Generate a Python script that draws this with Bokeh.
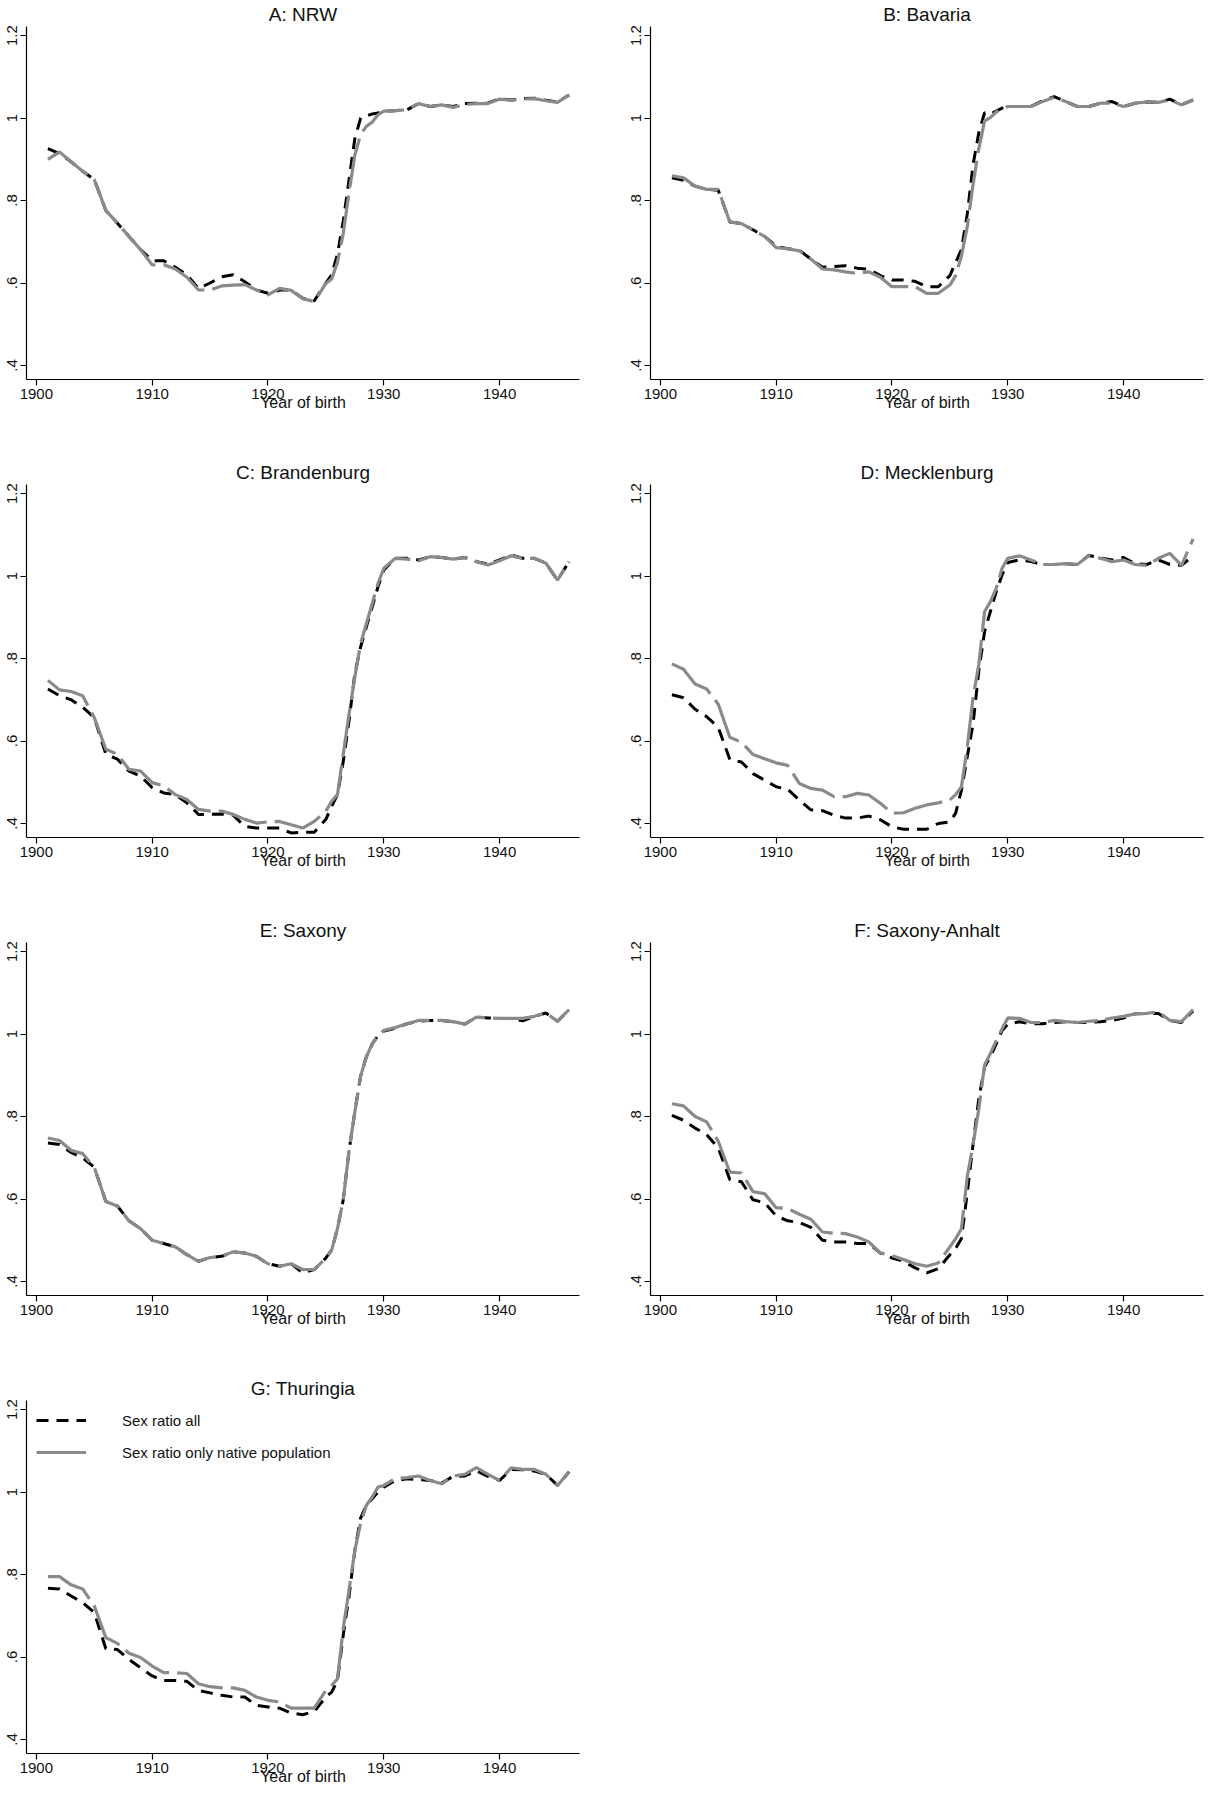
from bokeh.plotting import figure
from bokeh.layouts import gridplot
from bokeh.models import Range1d, FixedTicker, CustomJSTickFormatter, Legend, LegendItem
from bokeh.embed import file_html
from bokeh.resources import INLINE

# ---------------- data ----------------
YEARS = [1901, 1902, 1903, 1904, 1905, 1906, 1907, 1908, 1909, 1910,
         1911, 1912, 1913, 1914, 1915, 1916, 1917, 1918, 1919, 1920,
         1921, 1922, 1923, 1924, 1925,
         1925.5, 1926, 1926.5, 1927, 1927.5, 1928, 1928.5, 1929, 1929.5, 1930,
         1931, 1932, 1933, 1934, 1935, 1936, 1937, 1938, 1939, 1940,
         1941, 1942, 1943, 1944, 1945, 1946]

PANEL_TITLES = ["A: NRW", "B: Bavaria", "C: Brandenburg", "D: Mecklenburg",
                "E: Saxony", "F: Saxony-Anhalt", "G: Thuringia"]

SERIES_LABELS = ["Sex ratio all", "Sex ratio only native population"]
X_TICKS = [1900, 1910, 1920, 1930, 1940]
Y_TICKS = [0.4, 0.6, 0.8, 1.0, 1.2]
X_AXIS_LABEL = "Year of birth"

NRW_ALL = [0.926, 0.914, 0.894, 0.871, 0.851, 0.776, 0.745, 0.713, 0.681, 0.654,
           0.654, 0.638, 0.620, 0.587, 0.600, 0.615, 0.620, 0.603, 0.583, 0.575,
           0.583, 0.583, 0.563, 0.557, 0.600,
           0.620, 0.670, 0.750, 0.850, 0.950, 1.000, 1.005, 1.010, 1.012, 1.017,
           1.018, 1.020, 1.035, 1.028, 1.032, 1.028, 1.035, 1.036, 1.036, 1.047,
           1.044, 1.047, 1.048, 1.043, 1.039, 1.056]
NRW_NAT = [0.900, 0.918, 0.894, 0.871, 0.851, 0.776, 0.745, 0.713, 0.681, 0.644,
           0.644, 0.634, 0.614, 0.583, 0.583, 0.593, 0.595, 0.596, 0.583, 0.571,
           0.587, 0.582, 0.562, 0.555, 0.599,
           0.610, 0.650, 0.720, 0.820, 0.910, 0.960, 0.980, 0.990, 1.008, 1.017,
           1.018, 1.020, 1.035, 1.028, 1.032, 1.026, 1.033, 1.035, 1.035, 1.046,
           1.043, 1.046, 1.047, 1.042, 1.038, 1.056]

BAV_ALL = [0.855, 0.849, 0.835, 0.827, 0.825, 0.748, 0.744, 0.729, 0.713, 0.689,
           0.683, 0.680, 0.658, 0.638, 0.640, 0.642, 0.636, 0.633, 0.618, 0.607,
           0.607, 0.604, 0.591, 0.591, 0.618,
           0.650, 0.681, 0.767, 0.886, 0.965, 1.013, 1.009, 1.017, 1.024, 1.028,
           1.028, 1.028, 1.042, 1.052, 1.040, 1.028, 1.028, 1.036, 1.040, 1.028,
           1.036, 1.039, 1.038, 1.046, 1.032, 1.044]
BAV_NAT = [0.860, 0.855, 0.835, 0.827, 0.827, 0.748, 0.744, 0.729, 0.713, 0.686,
           0.683, 0.678, 0.658, 0.634, 0.632, 0.627, 0.623, 0.627, 0.614, 0.591,
           0.591, 0.591, 0.575, 0.575, 0.595,
           0.618, 0.666, 0.736, 0.839, 0.926, 0.993, 1.001, 1.015, 1.022, 1.028,
           1.028, 1.028, 1.040, 1.050, 1.040, 1.028, 1.028, 1.036, 1.036, 1.028,
           1.036, 1.039, 1.038, 1.044, 1.032, 1.044]

BRA_ALL = [0.726, 0.710, 0.700, 0.682, 0.657, 0.568, 0.556, 0.527, 0.515, 0.487,
           0.474, 0.470, 0.450, 0.422, 0.422, 0.423, 0.420, 0.393, 0.389, 0.389,
           0.389, 0.377, 0.379, 0.379, 0.410,
           0.442, 0.470, 0.550, 0.649, 0.763, 0.828, 0.877, 0.925, 0.974, 1.015,
           1.043, 1.043, 1.039, 1.047, 1.045, 1.041, 1.045, 1.035, 1.029, 1.039,
           1.051, 1.043, 1.043, 1.031, 0.990, 1.035]
BRA_NAT = [0.747, 0.724, 0.720, 0.710, 0.657, 0.580, 0.568, 0.531, 0.527, 0.499,
           0.491, 0.470, 0.458, 0.434, 0.430, 0.430, 0.422, 0.410, 0.401, 0.404,
           0.405, 0.397, 0.389, 0.405, 0.430,
           0.454, 0.470, 0.568, 0.665, 0.755, 0.836, 0.885, 0.933, 0.982, 1.019,
           1.043, 1.041, 1.037, 1.047, 1.045, 1.041, 1.045, 1.035, 1.027, 1.037,
           1.049, 1.043, 1.043, 1.031, 0.990, 1.035]

MEC_ALL = [0.712, 0.705, 0.677, 0.659, 0.633, 0.555, 0.549, 0.521, 0.505, 0.489,
           0.483, 0.457, 0.433, 0.431, 0.420, 0.413, 0.413, 0.418, 0.409, 0.392,
           0.386, 0.386, 0.386, 0.400, 0.404,
           0.425, 0.481, 0.561, 0.641, 0.770, 0.866, 0.914, 0.962, 1.002, 1.033,
           1.039, 1.035, 1.028, 1.028, 1.030, 1.028, 1.050, 1.044, 1.039, 1.045,
           1.030, 1.028, 1.039, 1.028, 1.026, 1.049]
MEC_NAT = [0.787, 0.774, 0.738, 0.726, 0.689, 0.609, 0.597, 0.567, 0.557, 0.547,
           0.541, 0.497, 0.485, 0.481, 0.465, 0.465, 0.473, 0.469, 0.449, 0.425,
           0.426, 0.437, 0.445, 0.450, 0.457,
           0.470, 0.489, 0.585, 0.705, 0.786, 0.914, 0.938, 0.970, 1.018, 1.043,
           1.049, 1.039, 1.028, 1.028, 1.030, 1.028, 1.049, 1.043, 1.035, 1.039,
           1.028, 1.026, 1.043, 1.055, 1.026, 1.090]

SAX_ALL = [0.736, 0.732, 0.713, 0.700, 0.677, 0.594, 0.583, 0.547, 0.528, 0.500,
           0.492, 0.484, 0.465, 0.449, 0.458, 0.461, 0.472, 0.469, 0.461, 0.443,
           0.437, 0.443, 0.421, 0.429, 0.457,
           0.476, 0.528, 0.598, 0.717, 0.811, 0.898, 0.945, 0.976, 0.996, 1.007,
           1.014, 1.025, 1.031, 1.033, 1.033, 1.030, 1.024, 1.041, 1.039, 1.038,
           1.038, 1.032, 1.043, 1.051, 1.031, 1.059]
SAX_NAT = [0.748, 0.742, 0.718, 0.710, 0.677, 0.594, 0.583, 0.547, 0.528, 0.500,
           0.492, 0.484, 0.465, 0.449, 0.458, 0.461, 0.472, 0.469, 0.461, 0.443,
           0.437, 0.443, 0.429, 0.429, 0.457,
           0.476, 0.528, 0.598, 0.717, 0.811, 0.898, 0.945, 0.976, 0.996, 1.009,
           1.016, 1.025, 1.033, 1.033, 1.033, 1.030, 1.024, 1.041, 1.039, 1.038,
           1.038, 1.038, 1.043, 1.051, 1.031, 1.059]

SAN_ALL = [0.803, 0.791, 0.772, 0.756, 0.724, 0.647, 0.642, 0.598, 0.591, 0.559,
           0.547, 0.543, 0.531, 0.500, 0.496, 0.496, 0.492, 0.492, 0.469, 0.457,
           0.449, 0.433, 0.421, 0.431, 0.465,
           0.480, 0.504, 0.614, 0.732, 0.843, 0.921, 0.945, 0.976, 1.008, 1.024,
           1.030, 1.025, 1.025, 1.028, 1.030, 1.028, 1.028, 1.030, 1.033, 1.039,
           1.049, 1.050, 1.050, 1.033, 1.028, 1.056]
SAN_NAT = [0.831, 0.826, 0.800, 0.787, 0.740, 0.665, 0.663, 0.618, 0.613, 0.579,
           0.577, 0.563, 0.551, 0.520, 0.517, 0.516, 0.508, 0.496, 0.469, 0.463,
           0.453, 0.443, 0.437, 0.445, 0.484,
           0.504, 0.528, 0.654, 0.732, 0.819, 0.925, 0.953, 0.984, 1.012, 1.039,
           1.038, 1.028, 1.028, 1.033, 1.030, 1.028, 1.031, 1.033, 1.039, 1.043,
           1.049, 1.050, 1.054, 1.033, 1.030, 1.059]

THU_ALL = [0.767, 0.765, 0.748, 0.732, 0.708, 0.620, 0.618, 0.594, 0.574, 0.554,
           0.543, 0.543, 0.541, 0.519, 0.513, 0.507, 0.503, 0.503, 0.483, 0.479,
           0.476, 0.464, 0.460, 0.468, 0.503,
           0.515, 0.543, 0.653, 0.748, 0.858, 0.937, 0.968, 0.984, 1.000, 1.012,
           1.028, 1.032, 1.030, 1.028, 1.022, 1.038, 1.039, 1.051, 1.038, 1.028,
           1.055, 1.054, 1.051, 1.043, 1.016, 1.049]
THU_NAT = [0.795, 0.795, 0.775, 0.765, 0.724, 0.647, 0.633, 0.609, 0.599, 0.578,
           0.562, 0.562, 0.560, 0.535, 0.528, 0.525, 0.525, 0.519, 0.503, 0.495,
           0.491, 0.476, 0.476, 0.476, 0.519,
           0.531, 0.547, 0.669, 0.763, 0.858, 0.925, 0.968, 0.988, 1.012, 1.016,
           1.033, 1.035, 1.039, 1.028, 1.020, 1.039, 1.043, 1.059, 1.043, 1.028,
           1.059, 1.055, 1.055, 1.043, 1.016, 1.049]

SERIES = [(NRW_ALL, NRW_NAT), (BAV_ALL, BAV_NAT), (BRA_ALL, BRA_NAT),
          (MEC_ALL, MEC_NAT), (SAX_ALL, SAX_NAT), (SAN_ALL, SAN_NAT),
          (THU_ALL, THU_NAT)]

# ---------------- styling ----------------
FONT = "Liberation Sans"
X_START, X_END = 1899.15, 1946.9
Y_START, Y_END = 0.366, 1.222
FRAME_W, FRAME_H = 553, 353
TOP, LEFT = 26, 26
GRAY = "#8a8a8a"

y_fmt_code = """
const s = tick.toFixed(1);
if (s.startsWith("0")) { return s.slice(1); }
if (s.endsWith(".0")) { return s.slice(0, -2); }
return s;
"""


def make_panel(idx, right_border, bottom_border, legend=False):
    all_vals, nat_vals = SERIES[idx]
    width = LEFT + FRAME_W + right_border
    height = TOP + FRAME_H + bottom_border
    p = figure(width=width, height=height, output_backend="svg", toolbar_location=None,
               x_range=Range1d(X_START, X_END), y_range=Range1d(Y_START, Y_END),
               min_border_left=LEFT, min_border_right=right_border,
               min_border_top=TOP, min_border_bottom=bottom_border,
               title=PANEL_TITLES[idx])
    p.background_fill_color = "white"
    p.border_fill_color = "white"
    p.outline_line_color = None
    p.grid.visible = False

    p.title.align = "center"
    p.title.text_font = FONT
    p.title.text_font_size = "19px"
    p.title.text_font_style = "normal"
    p.title.text_color = "#111111"
    p.title.standoff = 3

    for ax in (p.xaxis[0], p.yaxis[0]):
        ax.axis_line_color = "black"
        ax.axis_line_width = 1.2
        ax.major_tick_line_color = "black"
        ax.major_tick_line_width = 1.2
        ax.major_tick_out = 6
        ax.major_tick_in = 0
        ax.minor_tick_line_color = None
        ax.major_label_text_font = FONT
        ax.major_label_text_font_size = "15px"
        ax.major_label_text_color = "#111111"

    xa = p.xaxis[0]
    xa.ticker = FixedTicker(ticks=X_TICKS)
    xa.major_label_standoff = 3
    xa.axis_label = X_AXIS_LABEL
    xa.axis_label_text_font = FONT
    xa.axis_label_text_font_size = "16px"
    xa.axis_label_text_font_style = "normal"
    xa.axis_label_text_color = "#111111"
    xa.axis_label_standoff = -8

    ya = p.yaxis[0]
    ya.ticker = FixedTicker(ticks=Y_TICKS)
    ya.formatter = CustomJSTickFormatter(code=y_fmt_code)
    ya.major_label_orientation = "vertical"
    ya.major_label_standoff = 3

    r_all = p.line(YEARS, all_vals, line_color="black", line_width=3, line_dash="12 8")
    r_nat = p.line(YEARS, nat_vals, line_color=GRAY, line_width=3.2, line_dash="50 8")

    if legend:
        lg = Legend(items=[LegendItem(label=SERIES_LABELS[0], renderers=[r_all]),
                           LegendItem(label=SERIES_LABELS[1], renderers=[r_nat])],
                    location="top_left")
        lg.label_text_font = FONT
        lg.label_text_font_size = "15px"
        lg.label_text_color = "#111111"
        lg.glyph_width = 50
        lg.glyph_height = 20
        lg.label_height = 20
        lg.label_standoff = 36
        lg.spacing = 12
        lg.padding = 10
        lg.margin = 0
        lg.border_line_alpha = 0
        lg.background_fill_alpha = 0
        p.add_layout(lg)
    return p


ROW_BOTTOM = 79
LAST_BOTTOM = 38
RIGHT_A, RIGHT_B = 45, 2

pA = make_panel(0, RIGHT_A, ROW_BOTTOM)
pB = make_panel(1, RIGHT_B, ROW_BOTTOM)
pC = make_panel(2, RIGHT_A, ROW_BOTTOM)
pD = make_panel(3, RIGHT_B, ROW_BOTTOM)
pE = make_panel(4, RIGHT_A, ROW_BOTTOM)
pF = make_panel(5, RIGHT_B, ROW_BOTTOM)
pG = make_panel(6, RIGHT_A, LAST_BOTTOM, legend=True)

grid = gridplot([[pA, pB], [pC, pD], [pE, pF], [pG, None]], toolbar_location=None)

open("out.html", "w").write(file_html(grid, INLINE))
